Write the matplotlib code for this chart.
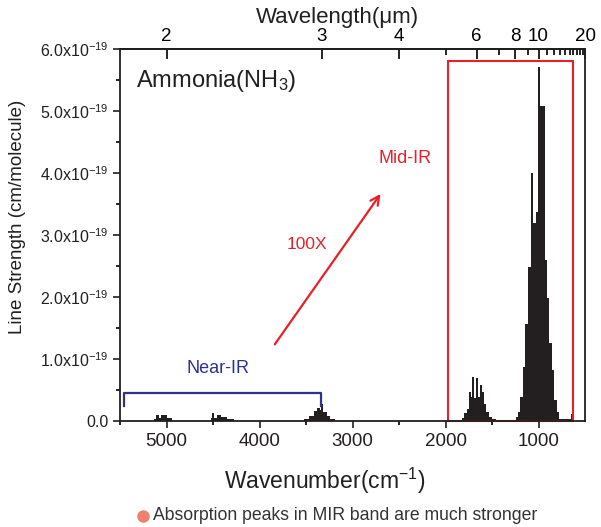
import matplotlib
matplotlib.use("Agg")
import matplotlib.pyplot as plt
from matplotlib.lines import Line2D

plt.rcParams['font.family'] = ['Liberation Sans', 'DejaVu Sans']
plt.rcParams['mathtext.fontset'] = 'custom'
plt.rcParams['mathtext.rm'] = 'Liberation Sans'
plt.rcParams['mathtext.it'] = 'Liberation Sans:italic'

# line strength in units of 1e-19 cm/molecule, bins as wavenumber edges (cm^-1)
nir1_edges = [4939, 4993, 5054, 5083, 5118, 5137]
nir1_vals = [0.05, 0.10, 0.055, 0.10, 0.025]
nir2_edges = [4276, 4348, 4412, 4455, 4492, 4509, 4527]
nir2_vals = [0.025, 0.06, 0.09, 0.055, 0.13, 0.05]
nir3_edges = [3183, 3237, 3272, 3319, 3337, 3355, 3380, 3416, 3470, 3524]
nir3_vals = [0.03, 0.08, 0.15, 0.27, 0.17, 0.21, 0.16, 0.08, 0.03]
nu4_edges = [1462, 1498, 1534, 1562, 1588, 1613, 1634, 1652, 1674, 1696, 1717, 1731,
             1749, 1774, 1796, 1821]
nu4_vals = [0.03, 0.07, 0.15, 0.28, 0.47, 0.58, 0.39, 0.69, 0.37, 0.71, 0.39, 0.47,
            0.20, 0.13, 0.05]
nu2_edges = [631, 656, 782, 806, 835, 860, 889, 914, 935, 986, 1004, 1032, 1057, 1086,
             1115, 1140, 1165, 1194, 1222, 1247]
nu2_vals = [0.12, 0.04, 0.15, 0.34, 0.83, 1.26, 1.98, 2.60, 5.08, 5.71, 3.37, 3.19, 4.00,
            2.48, 1.57, 0.87, 0.39, 0.15, 0.06]

ytick_vals = [0, 1, 2, 3, 4, 5, 6]
ytick_labels = ['0.0'] + ['%d.0x10$^{-19}$' % v for v in ytick_vals[1:]]
xtick_vals = [5000, 4000, 3000, 2000, 1000]
wl_ticks = [2, 3, 4, 6, 8, 10, 20]
wl_minor = [5, 7, 9, 11, 12, 13, 14, 15, 16, 17, 18, 19]

fig = plt.figure(figsize=(6.01, 5.27), dpi=100)
ax = fig.add_axes([0.1997, 0.2011, 0.7737, 0.7059])

dark = '#231f20'
for e, v in [(nir1_edges, nir1_vals), (nir2_edges, nir2_vals), (nir3_edges, nir3_vals),
             (nu4_edges, nu4_vals), (nu2_edges, nu2_vals)]:
    ax.stairs(v, e, fill=True, color=dark, lw=0)

ax.set_xlim(5500, 500)
ax.set_ylim(0, 6)
ax.set_xticks(xtick_vals)
ax.set_xticks(range(5500, 500, -500), minor=True)
ax.set_yticks(ytick_vals)
ax.set_yticklabels(ytick_labels)
ax.set_yticks([0.5, 1.5, 2.5, 3.5, 4.5, 5.5], minor=True)
ax.tick_params(axis='both', which='major', direction='out', length=5, width=1.2,
               labelsize=13.5, colors='#231f20')
ax.tick_params(axis='y', labelsize=11.5)
ax.tick_params(axis='both', which='minor', direction='out', length=3, width=1.2)
for s in ax.spines.values():
    s.set_linewidth(1.3)
    s.set_color('#231f20')

sec = ax.secondary_xaxis('top', functions=(lambda w: 1e4 / w, lambda l: 1e4 / l))
sec.set_xticks(wl_ticks)
sec.set_xticklabels([str(t) for t in wl_ticks])
sec.set_xticks(wl_minor, minor=True)
sec.tick_params(which='major', direction='in', length=7, width=1.2, labelsize=13.5, pad=3)
sec.tick_params(which='minor', direction='in', length=4, width=1.2)
sec.spines['top'].set_linewidth(1.3)

fig.text(337 / 601, 1 - 17 / 527, 'Wavelength(μm)', ha='center', va='center', fontsize=16,
         color='#231f20')
fig.text(325 / 601, 1 - 481 / 527, 'Wavenumber(cm$^{-1}$)', ha='center', va='center',
         fontsize=16.5, color='#231f20')
fig.text(18 / 601, 1 - 217 / 527, 'Line Strength (cm/molecule)', rotation=90, ha='center',
         va='center', fontsize=13.5, color='#231f20')

ax.text(0.034, 0.915, 'Ammonia(NH$_3$)', transform=ax.transAxes, fontsize=17,
        va='center', ha='left', color='#231f20')

red = '#e8202a'
ax.add_patch(plt.Rectangle((1968, 0), 624 - 1968, 5.81, fill=False, ec=red, lw=1.5,
                           clip_on=False))
ax.annotate('', xy=(2681, 3.70), xytext=(3853, 1.20),
            arrowprops=dict(arrowstyle='->', color=red, lw=1.6, mutation_scale=16))
ax.text(3487, 2.84, '100X', color=red, fontsize=12.5, ha='center', va='center')
ax.text(2430, 4.24, 'Mid-IR', color=red, fontsize=13, ha='center', va='center')

navy = '#2e3192'
ax.plot([5452, 5452, 3344, 3344], [0.24, 0.456, 0.456, 0.24], color=navy, lw=1.6)
ax.text(4445, 0.84, 'Near-IR', color=navy, fontsize=13, ha='center', va='center')

fig.add_artist(Line2D([143 / 601], [1 - 516 / 527], marker='o', ms=8, color='#f08070',
                      transform=fig.transFigure))
fig.text(153 / 601, 1 - 516 / 527, 'Absorption peaks in MIR band are much stronger',
         fontsize=12.7, color='#333333', ha='left', va='center')

fig.savefig('out.png', dpi=100)
